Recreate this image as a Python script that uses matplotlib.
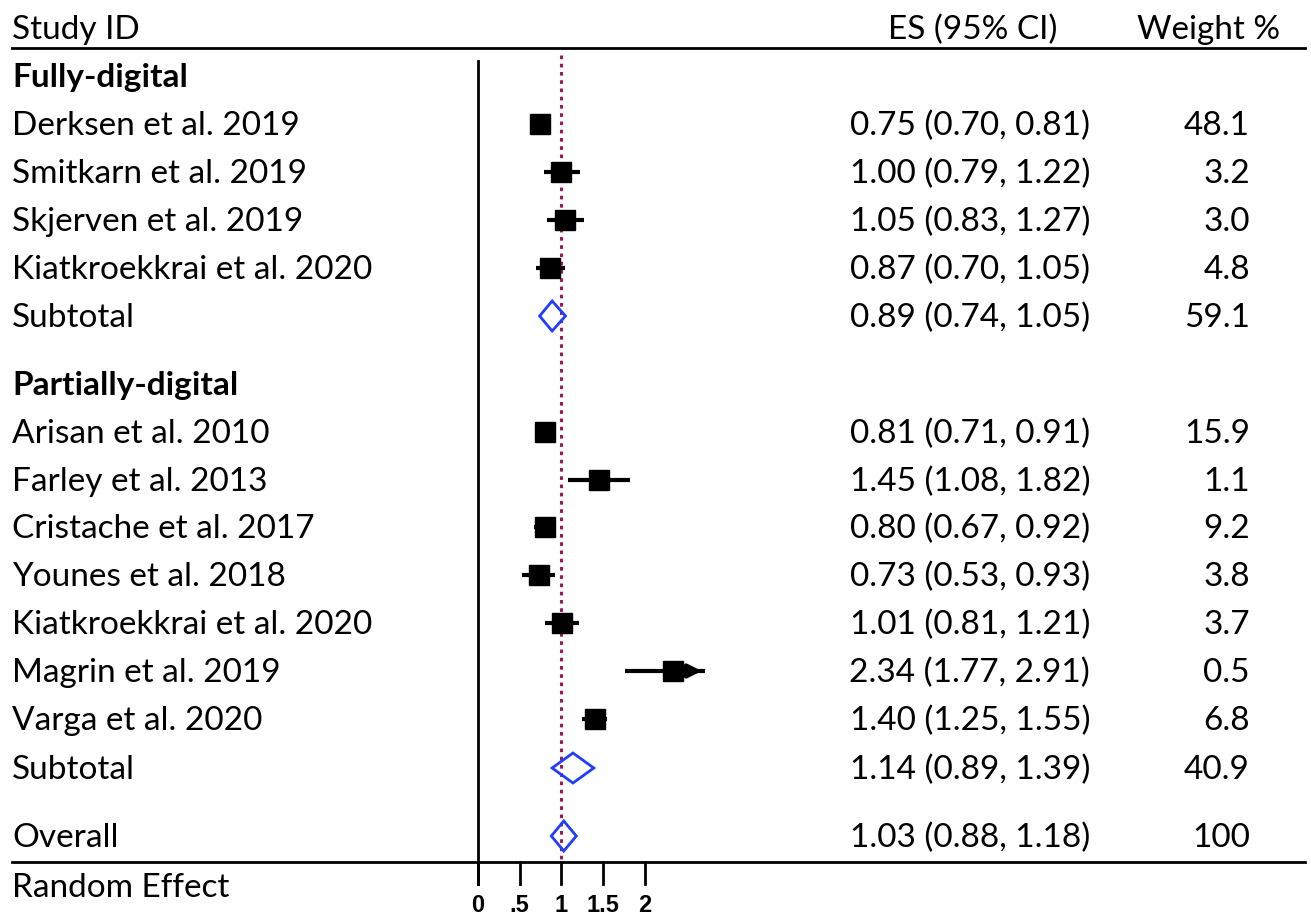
import matplotlib
matplotlib.use('Agg')
import matplotlib.pyplot as plt
import numpy as np

plt.rcParams['font.family'] = ['Lato', 'DejaVu Sans']

# ---- data ----
studies = ['Derksen et al. 2019', 'Smitkarn et al. 2019', 'Skjerven et al. 2019',
           'Kiatkroekkrai et al. 2020', 'Subtotal',
           'Arisan et al. 2010', 'Farley et al. 2013', 'Cristache et al. 2017',
           'Younes et al. 2018', 'Kiatkroekkrai et al. 2020', 'Magrin et al. 2019',
           'Varga et al. 2020', 'Subtotal', 'Overall']
es = [0.75, 1.00, 1.05, 0.87, 0.89,
      0.81, 1.45, 0.80, 0.73, 1.01, 2.34, 1.40, 1.14, 1.03]
lo = [0.70, 0.79, 0.83, 0.70, 0.74,
      0.71, 1.08, 0.67, 0.53, 0.81, 1.77, 1.25, 0.89, 0.88]
hi = [0.81, 1.22, 1.27, 1.05, 1.05,
      0.91, 1.82, 0.92, 0.93, 1.21, 2.91, 1.55, 1.39, 1.18]
weight = ['48.1', '3.2', '3.0', '4.8', '59.1',
          '15.9', '1.1', '9.2', '3.8', '3.7', '0.5', '6.8', '40.9', '100']
pooled = [False, False, False, False, True,
          False, False, False, False, False, False, False, True, True]
groups = ['Fully-digital', 'Partially-digital']
xticks = [0, 0.5, 1, 1.5, 2]
xtick_labels = ['0', '.5', '1', '1.5', '2']

# ---- layout (pixel rows) ----
W, H = 1311, 915
row_y = [124, 172, 220, 268, 316, 432, 480, 527, 575, 623, 671, 719, 768, 836]
group_y = [75, 383]
x0_px, px_per_unit = 478, 83.3
xmax = 2.72  # right end of the plotting area
dy = 2  # small text offset

fig = plt.figure(figsize=(W / 100, H / 100), dpi=100)
ax = fig.add_axes([0, 0, 1, 1])
ax.set_xlim(-x0_px / px_per_unit, (W - x0_px) / px_per_unit)
ax.set_ylim(H, 0)
ax.axis('off')

fs = 24
left = -466 / px_per_unit
es_right = (1090 - x0_px) / px_per_unit
wt_right = (1250 - x0_px) / px_per_unit

# header
ax.text(left, 30, 'Study ID', fontsize=fs, va='center', ha='left')
ax.text((1057 - x0_px) / px_per_unit, 30, 'ES (95% CI)', fontsize=fs, va='center', ha='right')
ax.text((1280 - x0_px) / px_per_unit, 30, 'Weight %', fontsize=fs, va='center', ha='right')
ax.plot([left, (1305 - x0_px) / px_per_unit], [48, 48], color='black', lw=2)
ax.plot([left, (1305 - x0_px) / px_per_unit], [862, 862], color='black', lw=2)
ax.text(left, 888, 'Random Effect', fontsize=fs, va='center', ha='left')

for g, gy in zip(groups, group_y):
    ax.text(left, gy + dy, g, fontsize=fs, fontweight='bold', va='center', ha='left')

# axis line and ticks
ax.plot([0, 0], [61, 884], color='black', lw=2)
for t, lab in zip(xticks, xtick_labels):
    ax.plot([t, t], [862, 884], color='black', lw=2)
    ax.text(t, 906, lab, fontsize=17, fontweight='bold', ha='center', va='center',
            family=['Liberation Sans'])
# null line
ax.plot([1, 1], [55, 860], color='#9b1b5a', lw=2.2, ls=(0, (1.2, 1.5)))

# rows
for name, y, e, l, h, w, p in zip(studies, row_y, es, lo, hi, weight, pooled):
    ax.text(left, y + dy, name, fontsize=fs, va='center', ha='left')
    ax.text(es_right, y + dy, f'{e:.2f} ({l:.2f}, {h:.2f})', fontsize=fs, va='center', ha='right')
    ax.text(wt_right, y + dy, w, fontsize=fs, va='center', ha='right')
    if p:
        ax.fill([l, e, h, e, l], [y, y - 15, y, y + 15, y], facecolor='none',
                edgecolor='#1f3cff', lw=2, zorder=4)
    else:
        right = min(h, xmax)
        ax.plot([l, right], [y, y], color='black', lw=3, solid_capstyle='butt', zorder=3)
        if h > xmax:
            ax.annotate('', xy=(xmax, y), xytext=(xmax - 0.25, y),
                        arrowprops=dict(arrowstyle='-|>', color='black', lw=3,
                                        mutation_scale=20))
        ax.plot(e, y, marker='s', ms=14, color='black', zorder=4)

plt.savefig('out.png', dpi=100)
